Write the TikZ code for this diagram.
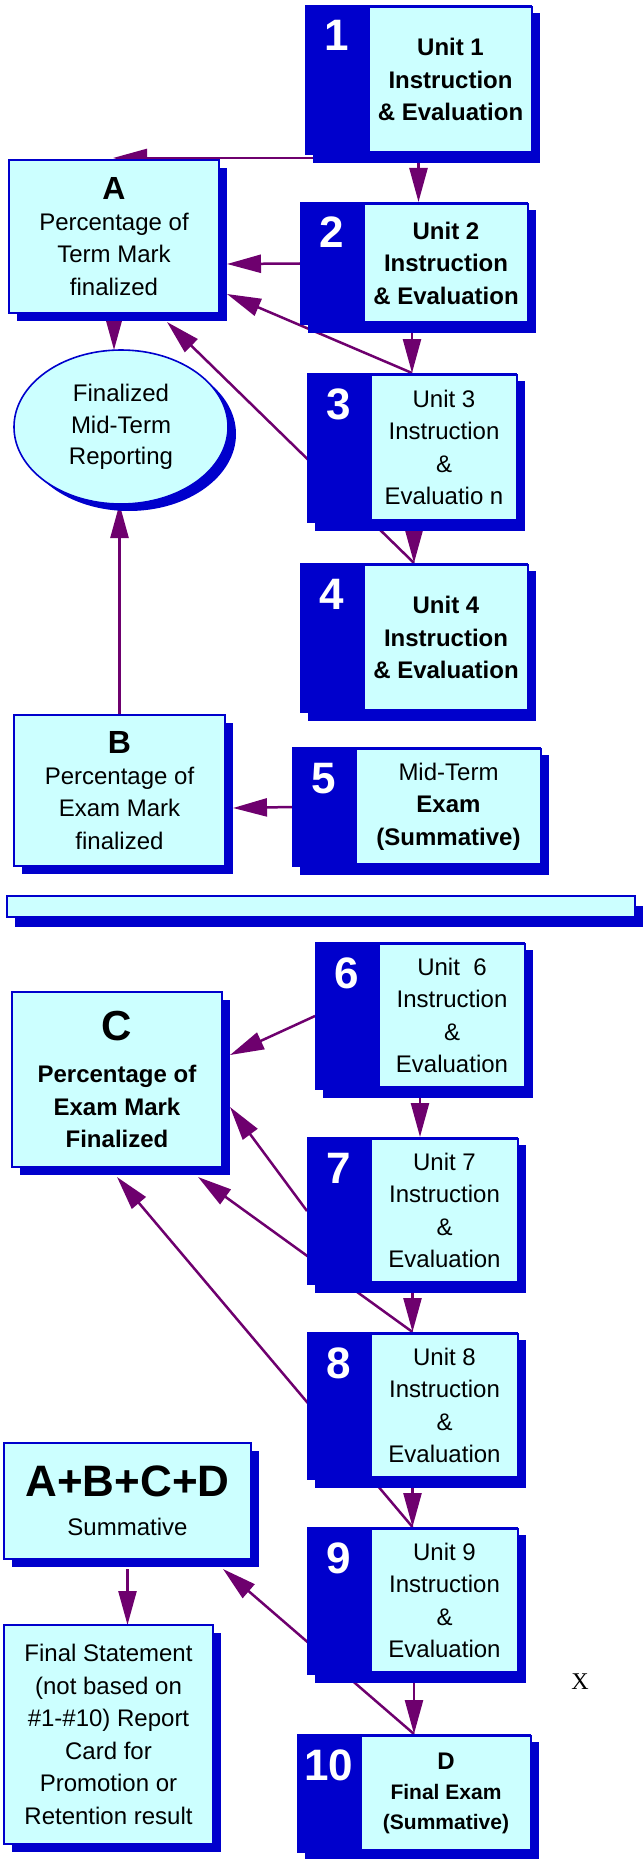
\documentclass[tikz,border=0pt]{standalone}
\usepackage{fontspec}
\setmainfont{Liberation Sans}
\newfontfamily\serifx{Liberation Serif}
\usetikzlibrary{shapes.geometric, calc, shadows, arrows.meta, backgrounds}
\definecolor{boxblue}{RGB}{0,0,204}
\definecolor{boxcyan}{RGB}{204,255,255}
\definecolor{linkpurple}{RGB}{110,0,110}

\begin{document}
\begin{tikzpicture}[x=1pt, y=-1pt,
    every node/.style={inner sep=0pt, outer sep=0pt},
    boxshadow/.style={general shadow={fill=boxblue, shadow xshift=8pt, shadow yshift=-8pt}},
    unit/.style={fill=boxblue, anchor=north west, boxshadow},
    card/.style={fill=boxcyan, draw=boxblue, line width=1.2pt, align=center, font=\fontsize{24}{32.5}\selectfont},
    num/.style={text=white, anchor=base, font=\fontsize{44}{44}\selectfont\bfseries},
    link/.style={draw=linkpurple, line width=2.5pt, -{Triangle[length=34pt, width=18pt]}}]

    \useasboundingbox (0,0) rectangle (642,1859);

    % unit boxes: blue block, cyan card, white number
    \foreach \n/\x/\y/\w/\h/\fs/\ls/\txt in {
        1/305/5/227/150/24/32.5/{\textbf{Unit 1}\\\textbf{Instruction}\\\textbf{\& Evaluation}},
        2/300/202/228/123/24/32.5/{\textbf{Unit 2}\\\textbf{Instruction}\\\textbf{\& Evaluation}},
        3/307/373/210/150/24/32.5/{Unit 3\\Instruction\\\&\\Evaluatio n},
        4/300/563/228/150/24/32.5/{\textbf{Unit 4}\\\textbf{Instruction}\\\textbf{\& Evaluation}},
        5/292/747/249/120/24/32.5/{Mid-Term\\\textbf{Exam}\\\textbf{(Summative)}},
        6/315/942/210/148/24/32.5/{Unit~~6\\Instruction\\\&\\Evaluation},
        7/307/1137/211/148/24/32.5/{Unit 7\\Instruction\\\&\\Evaluation},
        8/307/1332/211/148/24/32.5/{Unit 8\\Instruction\\\&\\Evaluation},
        9/307/1527/211/148/24/32.5/{Unit 9\\Instruction\\\&\\Evaluation},
        10/297/1734/234/119/21/30/{\textbf{\fontsize{24}{30}\selectfont D}\\\textbf{Final Exam}\\\textbf{(Summative)}}}
    {
        \node[unit, minimum width=\w, minimum height=\h] (u\n) at (\x,\y) {};
        \node[card, anchor=north east, minimum width=\w-64, minimum height=\h-5, font=\fontsize{\fs}{\ls}\selectfont] (c\n) at ($(u\n.north east)+(0,2)$) {\txt};
        \node[num] (n\n) at ($(u\n.north west)+(32,46)$) {\n};
    }

    \node[card, boxshadow, minimum width=210, minimum height=153] (A) at (114,236.5) {\fontsize{32}{32}\selectfont\textbf{A}\\[-2pt]Percentage of\\Term Mark\\finalized};
    \node[ellipse, fill=boxcyan, draw=boxblue, line width=1.6pt, general shadow={fill=boxblue, shadow xshift=8pt, shadow yshift=-7pt}, minimum width=214, minimum height=154, align=center, font=\fontsize{24}{31.5}\selectfont] (rep) at (121,427) {Finalized\\Mid-Term\\Reporting};
    \node[card, boxshadow, minimum width=211, minimum height=151] (B) at (119.5,790.5) {\fontsize{32}{32}\selectfont\textbf{B}\\[-2pt]Percentage of\\Exam Mark\\finalized};
    \node[card, general shadow={fill=boxblue, shadow xshift=8pt, shadow yshift=-10pt}, minimum width=628, minimum height=21] (bar) at (321,906.5) {};
    \node[card, boxshadow, minimum width=210, minimum height=175] (C) at (117,1079.5) {\fontsize{42}{42}\selectfont\textbf{C}\\[9.5pt]\textbf{Percentage of}\\\textbf{Exam Mark}\\\textbf{Finalized}};
    \node[card, boxshadow, minimum width=247, minimum height=116] (sum) at (127.5,1501) {\fontsize{44}{44}\selectfont\textbf{A+B+C+D}\\[6.5pt]Summative};
    \node[card, boxshadow, minimum width=209, minimum height=219] (fin) at (108.5,1734.5) {Final Statement\\(not based on\\\#1-\#10) Report\\Card for\\Promotion or\\Retention result};
    \node[font=\serifx\fontsize{24}{24}\selectfont] (mark) at (580,1682) {X};

    % connectors behind the boxes
    \begin{scope}[on background layer]
        \draw[link] ($(u1.south west)+(8,3)$) -- ($(A.north)+(-1,-2)$);
        \draw[link] (u1.south) -- (u1.south |- u2.north);
        \draw[link] (u2.west) -- ($(A.south east)+(8,-49)$);
        \draw[link] (u3.north |- u2.south) -- (u3.north);
        \draw[link] (u3.north) -- ($(A.south east)+(8,-19)$);
        \draw[link] (u4.north |- u3.south) -- (u4.north);
        \draw[link] (u4.north) -- ($(A.south)+(53,9)$);
        \draw[link] ($(A.south)+(0,9)$) -- (A.south |- rep.north);
        \draw[link] (B.north) -- (B.north |- rep.south);
        \draw[link] (u5.west) -- ($(B.south east)+(8,-58)$);
        \draw[link] (u6.west) -- ($(C.south east)+(8,-112)$);
        \draw[link] (u6.south) -- (u6.south |- u7.north);
        \draw[link] (u7.west) -- ($(C.south east)+(8,-60)$);
        \draw[link] (u8.north |- u7.south) -- (u8.north);
        \draw[link] (u8.north) -- ($(C.south east)+(-24,10)$);
        \draw[link] (u9.north |- u8.south) -- (u9.north);
        \draw[link] (u9.north) -- ($(C.south)+(0,10)$);
        \draw[link] (u10.north |- u9.south) -- (u10.north);
        \draw[link] (u10.north) -- ($(sum.south east)+(-28,10)$);
        \draw[link] ($(sum.south)+(0,10)$) -- (sum.south |- fin.north);
    \end{scope}

\end{tikzpicture}
\end{document}
